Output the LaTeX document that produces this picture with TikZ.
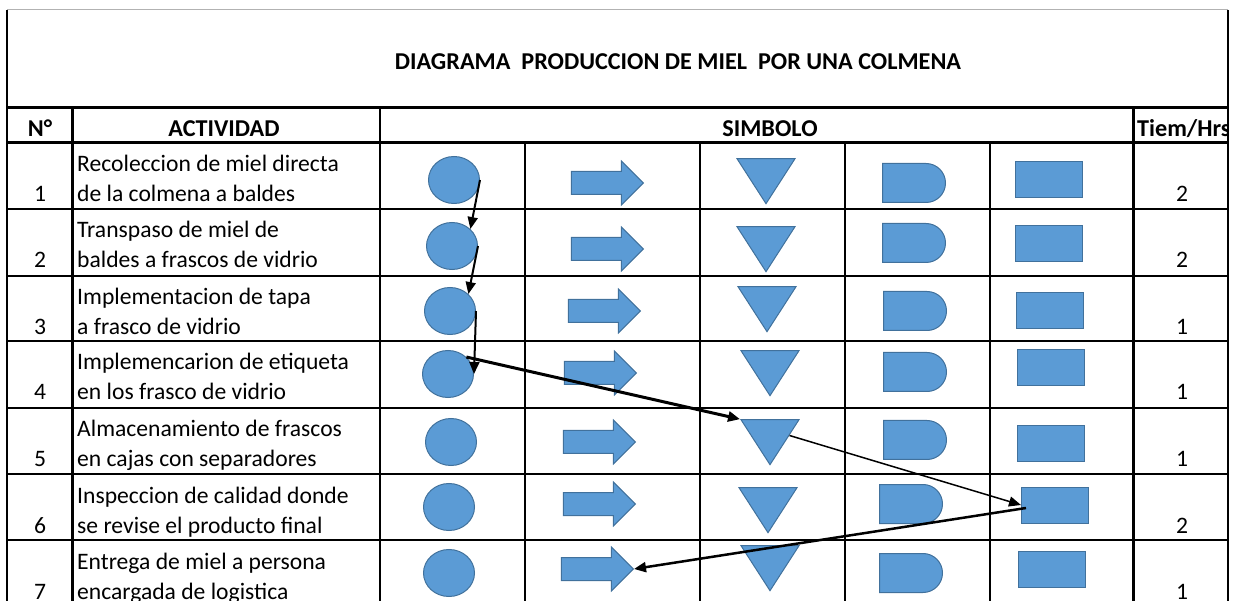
\documentclass[tikz,border=0pt]{standalone}
\usepackage{fontspec}
\setmainfont{Carlito}
\usetikzlibrary{shapes.geometric,shapes.arrows,shapes.misc,arrows.meta}

\definecolor{symfill}{RGB}{91,155,213}
\definecolor{symline}{RGB}{65,113,156}

\begin{document}
\begin{tikzpicture}[x=1pt,y=-1pt,
    txt/.style={font=\fontsize{23.6}{28}\selectfont,inner sep=0pt,anchor=base west},
    hdr/.style={font=\fontsize{24.2}{28}\selectfont\bfseries,inner sep=0pt,anchor=base},
    numtxt/.style={font=\fontsize{23.6}{28}\selectfont,inner sep=0pt,anchor=base},
    thinline/.style={line width=1.3pt},
    rowline/.style={line width=1.8pt},
    thickline/.style={line width=3pt},
    sym/.style={draw=symline,fill=symfill,line width=1pt,inner sep=0pt},
    opsym/.style={sym,ellipse,minimum width=51pt,minimum height=47pt},
    trsym/.style={sym,single arrow,inner xsep=0pt,inner ysep=11pt,
      single arrow head extend=10.5pt,minimum height=72pt,anchor=tip},
    almsym/.style={sym,isosceles triangle,isosceles triangle stretches,
      shape border rotate=270,minimum width=58pt,minimum height=45pt,anchor=apex},
    demsym/.style={sym,rounded rectangle,rounded rectangle left arc=none,
      minimum width=63pt,minimum height=39pt},
    inssym/.style={sym,rectangle,minimum width=67pt,minimum height=36pt},
    flow/.style={-{Triangle[length=12pt,width=10pt]},line width=2pt}
  ]
  \useasboundingbox (0,0) rectangle (1240,601);

  % frame and grid
  \draw[line width=1pt,gray!60] (7,10) -- (1228,10);
  \draw[thinline] (7,10) -- (7,601);
  \draw[thinline] (1228,10) -- (1228,601);
  \draw[thickline] (7,108) -- (1228,108);
  \draw[thickline] (7,143) -- (1228,143);
  \foreach \y in {209,276,341,408,474,540}
    \draw[rowline] (7,\y) -- (1228,\y);
  \draw[thickline] (72,108) -- (72,601);
  \draw[line width=2.2pt] (380,108) -- (380,601);
  \draw[thickline] (1133,108) -- (1133,601);
  \foreach \x in {525,700,845,990}
    \draw[thinline] (\x,143) -- (\x,601);

  % title and headings
  \node[hdr] (title) at (678,70) {DIAGRAMA\ \ PRODUCCION DE MIEL\ \ POR UNA COLMENA};
  \node[hdr] (hnum) at (40,137) {N°};
  \node[hdr] (hact) at (224,137) {ACTIVIDAD};
  \node[hdr] (hsym) at (770,137) {SIMBOLO};
  \begin{scope}
    \clip (1133,108) rectangle (1228,143);
    \node[hdr,anchor=base west] (htime) at (1137,137) {Tiem/Hrs};
  \end{scope}

  % rows
  \foreach \i/\top/\cx/\cy/\ax/\ay/\tx/\ty/\dx/\dy/\rx/\ry/\hrs/\la/\lb in {
      1/143/454/180/644/183/766/205/914/183/1049/180/2/{Recoleccion de miel directa}/{de la colmena a baldes},
      2/209/452/246/644/249/766/273/914/243/1049/244/2/{Transpaso de miel de}/{baldes a frascos de vidrio},
      3/276/450/311/641/311/767/333/915/311/1050/311/1/{Implementacion de tapa}/{a frasco de vidrio},
      4/341/448/374/637/373/770/397/915/372/1051/368/1/{Implemencarion de etiqueta}/{en los frasco de vidrio},
      5/408/451/442/636/442/770/466/915/440/1051/444/1/{Almacenamiento de frascos}/{en cajas con separadores},
      6/474/449/507/636/504/768/534/911/504/1055/505/2/{Inspeccion de calidad donde}/{se revise el producto final},
      7/540/449/573/634/569/770/592/911/573/1052/569/1/{Entrega de miel a persona}/{encargada de logistica}} {
    \node[numtxt] (num\i) at (40,\top+59) {\i};
    \node[txt] (acta\i) at (77,\top+29) {\la};
    \node[txt] (actb\i) at (77,\top+59) {\lb};
    \node[opsym] (op\i) at (\cx,\cy) {};
    \node[trsym] (tr\i) at (\ax,\ay) {};
    \node[almsym] (alm\i) at (\tx,\ty) {};
    \node[demsym] (dem\i) at (\dx,\dy) {};
    \node[inssym] (ins\i) at (\rx,\ry) {};
    \node[numtxt] (hrs\i) at (1182,\top+59) {\hrs};
  }

  % flow of the process
  \draw[flow] (op1.east) -- (op2.north east);
  \draw[flow] (op2.east) -- (op3.north east);
  \draw[flow] (op3.east) -- (op4.east);
  \draw[flow,line width=3pt] (op4.north east) -- (alm5.right corner);
  \draw[flow,line width=1.5pt] (alm5.east) -- (ins6.west);
  \draw[flow,line width=2.5pt] ([xshift=5pt,yshift=-3pt]ins6.west) -- (tr7.tip);
\end{tikzpicture}
\end{document}
